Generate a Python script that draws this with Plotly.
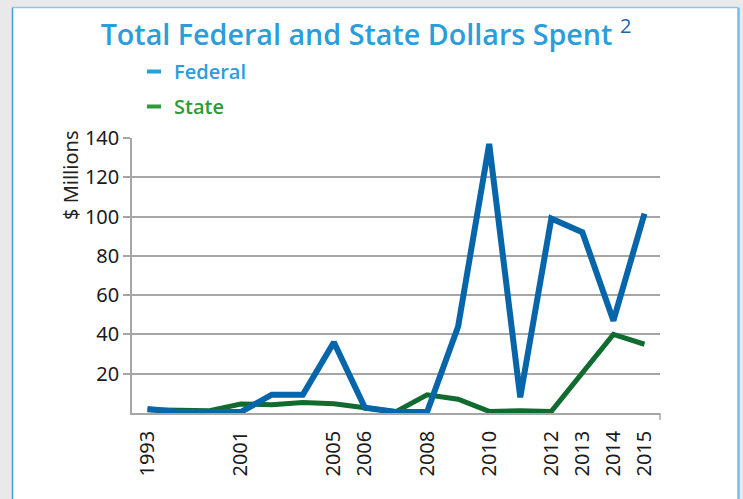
import plotly.graph_objects as go

# ---- data ----
categories = ["1993", "1995", "1998", "2001", "2003", "2004", "2005", "2006", "2007",
              "2008", "2009", "2010", "2011", "2012", "2013", "2014", "2015"]
shown_labels = ["1993", "2001", "2005", "2006", "2008", "2010", "2012", "2013", "2014", "2015"]
federal = [2, 0.5, 0.5, 0.5, 9.3, 9.3, 36, 2.7, 0.5, 0.5, 44, 137, 8, 99, 92, 47, 101.5]
state = [1.7, 1.2, 1.2, 4.6, 4.2, 5.4, 4.7, 2.7, 0.7, 9.3, 7, 0.8, 1.2, 0.8, 20.5, 40, 35]
y_ticks = [20, 40, 60, 80, 100, 120, 140]

W, H = 743, 499
L, R, T, B = 132, 83, 138, 86
pw, ph = W - L - R, H - T - B

def px(x):
    return (x - L) / pw

def py(y):
    return (H - B - y) / ph

FED_LINE = "#0766aa"
STATE_LINE = "#106b2f"
FED_TXT = "#2b9ddb"
STATE_TXT = "#2f9a3a"
FONT = "Open Sans"

fig = go.Figure()
fig.add_trace(go.Scatter(x=categories, y=state, mode="lines", showlegend=False,
                         hoverinfo="skip", line=dict(color=STATE_LINE, width=5)))
fig.add_trace(go.Scatter(x=categories, y=federal, mode="lines", showlegend=False,
                         hoverinfo="skip", line=dict(color=FED_LINE, width=6)))
# legend entries
fig.add_trace(go.Scatter(x=[None], y=[None], mode="markers", legendgroup="f",
                         name=f'<span style="color:{FED_TXT}">Federal</span>',
                         marker=dict(symbol="line-ew", size=10,
                                     line=dict(color=FED_TXT, width=4))))
fig.add_trace(go.Scatter(x=[None], y=[None], mode="markers", legendgroup="s",
                         name=f'<span style="color:{STATE_TXT}">State</span>',
                         marker=dict(symbol="line-ew", size=10,
                                     line=dict(color=STATE_TXT, width=4))))

shapes = [
    dict(type="rect", xref="paper", yref="paper", x0=px(12), x1=px(738), y0=py(520), y1=py(7.5),
         fillcolor="white", line=dict(width=0), layer="below"),
    dict(type="line", xref="paper", yref="paper", x0=px(12.5), x1=px(12.5), y0=py(520), y1=py(7.5),
         line=dict(color="#3a9fdc", width=1.5), layer="below"),
    dict(type="line", xref="paper", yref="paper", x0=px(12), x1=px(738), y0=py(7.5), y1=py(7.5),
         line=dict(color="#8cc5ea", width=1.5), layer="below"),
    dict(type="line", xref="paper", yref="paper", x0=px(738.5), x1=px(738.5), y0=py(520), y1=py(7.5),
         line=dict(color="#7dbbe5", width=2.5), layer="below"),
    dict(type="line", xref="paper", yref="paper", x0=1, x1=1, y0=0, y1=py(420),
         line=dict(color="#a6a6a6", width=1.5)),
]

fig.update_layout(
    width=W, height=H,
    margin=dict(l=L, r=R, t=T, b=B),
    paper_bgcolor="#e9e9e9",
    plot_bgcolor="white",
    shapes=shapes,
    title=dict(
        text='Total Federal and State Dollars Spent <span style="font-weight:normal;color:#1d67ad"><sup>2</sup></span>',
        x=366 / W, xanchor="center", xref="container",
        y=1 - 35 / H, yanchor="middle", yref="container",
        font=dict(family=FONT, size=28.7, color=FED_TXT, weight=600)),
    legend=dict(x=px(134), xanchor="left", y=py(52), yanchor="top",
                bgcolor="rgba(0,0,0,0)", tracegroupgap=6,
                font=dict(family=FONT, size=20, weight=600)),
    xaxis=dict(type="category", categoryorder="array", categoryarray=categories,
               tickmode="array", tickvals=shown_labels, ticktext=shown_labels,
               tickangle=-90, ticks="outside", ticklen=8, tickcolor="rgba(0,0,0,0)",
               showgrid=False, showline=True, linecolor="#a6a6a6", linewidth=1.5,
               range=[-0.5, len(categories) - 0.5],
               tickfont=dict(family="Noto Sans", size=20, color="#1a1a1a")),
    yaxis=dict(range=[0, 140], tickmode="array", tickvals=y_ticks,
               ticks="outside", ticklen=7, tickcolor="#a6a6a6", tickwidth=1.5,
               showgrid=True, gridcolor="#a6a6a6", gridwidth=1.5,
               zeroline=False, showline=True, linecolor="#a6a6a6", linewidth=1.5,
               tickfont=dict(family="Noto Sans", size=20, color="#1a1a1a")),
    annotations=[dict(text="$ Millions", xref="paper", yref="paper", x=px(70), y=py(176),
                      textangle=-90, showarrow=False, xanchor="center", yanchor="middle",
                      font=dict(family="Noto Sans", size=20, color="#222222"))],
)

fig.write_html(
    "out.html",
    config={"displayModeBar": False},
    post_script="document.body.style.margin='0';document.body.style.background='#e9e9e9';",
)
